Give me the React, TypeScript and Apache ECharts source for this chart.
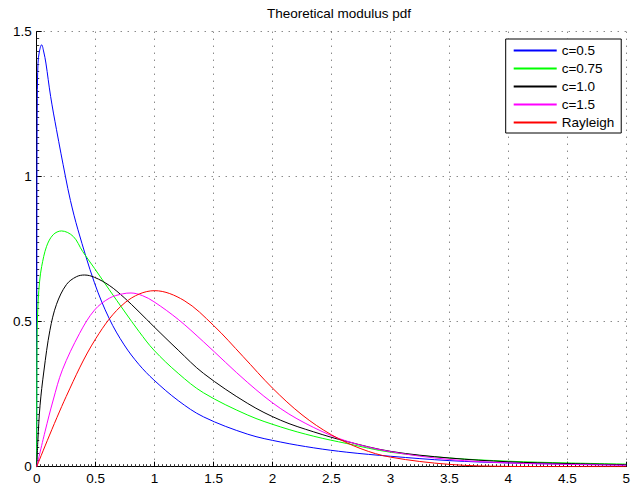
import React, { useEffect, useRef } from "react";
import * as echarts from "echarts";

const TITLE = "Theoretical modulus pdf";
const SERIES_NAMES = ["c=0.5", "c=0.75", "c=1.0", "c=1.5", "Rayleigh"];
const SERIES_COLORS = ["#0000ff", "#00ff00", "#000000", "#ff00ff", "#ff0000"];

const xTicksMin = 0;
const xTicksMax = 5;
const yTicksMin = 0;
const yTicksMax = 1.5;

const c05X = [0, 0.002, 0.005, 0.011, 0.022, 0.042, 0.06, 0.078, 0.118, 0.168, 0.244, 0.286, 0.35, 0.49, 0.616, 0.742, 0.868, 0.994, 1.2, 1.414, 1.79, 2.07, 2.35, 2.63, 3, 3.5, 4, 4.5, 5];
const c05Y = [0, 1.0, 1.27, 1.39, 1.43, 1.455, 1.43, 1.392, 1.277, 1.162, 1.0, 0.918, 0.817, 0.634, 0.51, 0.42, 0.352, 0.299, 0.228, 0.172, 0.112, 0.085, 0.065, 0.05, 0.036, 0.021, 0.013, 0.009, 0.006];

const c075X = [0, 0.003, 0.013, 0.025, 0.042, 0.084, 0.14, 0.21, 0.31, 0.39, 0.49, 0.616, 0.742, 0.868, 0.994, 1.2, 1.414, 1.79, 2.07, 2.35, 2.63, 3, 3.5, 4, 4.5, 5];
const c075Y = [0, 0.45, 0.575, 0.64, 0.69, 0.76, 0.8, 0.813, 0.794, 0.742, 0.684, 0.61, 0.537, 0.466, 0.402, 0.322, 0.255, 0.178, 0.137, 0.105, 0.08, 0.05, 0.03, 0.019, 0.013, 0.009];

const c10X = [0, 0.01, 0.028, 0.061, 0.112, 0.168, 0.252, 0.336, 0.406, 0.49, 0.616, 0.742, 0.868, 0.994, 1.2, 1.414, 1.79, 2.07, 2.35, 2.63, 3, 3.5, 4, 4.5, 5];
const c10Y = [0, 0.09, 0.21, 0.33, 0.47, 0.56, 0.628, 0.655, 0.661, 0.653, 0.625, 0.583, 0.534, 0.483, 0.402, 0.322, 0.218, 0.16, 0.12, 0.087, 0.053, 0.03, 0.017, 0.011, 0.007];

const c15X = [0, 0.07, 0.14, 0.218, 0.364, 0.49, 0.616, 0.728, 0.8, 0.896, 0.994, 1.2, 1.414, 1.79, 2.07, 2.35, 2.63, 3, 3.5, 4, 4.5, 5];
const c15Y = [0, 0.12, 0.23, 0.334, 0.46, 0.54, 0.581, 0.596, 0.599, 0.59, 0.569, 0.508, 0.431, 0.29, 0.2, 0.135, 0.088, 0.052, 0.025, 0.013, 0.008, 0.005];

const rayX = [0, 0.25, 0.5, 0.75, 1, 1.25, 1.5, 1.75, 2, 2.25, 2.5, 2.75, 3, 3.5, 4, 4.5, 5];
const rayY = [0, 0.242, 0.441, 0.566, 0.607, 0.573, 0.487, 0.38, 0.271, 0.179, 0.11, 0.062, 0.033, 0.008, 0.001, 0.0002, 0];

const SERIES_X = [c05X, c075X, c10X, c15X, rayX];
const SERIES_Y = [c05Y, c075Y, c10Y, c15Y, rayY];

const FONT = "'Liberation Sans', Arial, Helvetica, sans-serif";
const FS = 13.5;

export default function App() {
  const ref = useRef<HTMLDivElement>(null);
  useEffect(() => {
    if (!ref.current) return;
    const chart = echarts.init(ref.current, undefined, { renderer: "svg" });
    const grid = "#555555";
    const axisCommon = (min: number, max: number, minorSplit: number) => ({
      type: "value" as const,
      min,
      max,
      interval: 0.5,
      axisLine: { show: true, onZero: false, lineStyle: { color: "#000", width: 1 } },
      axisTick: { show: true, inside: true, length: 5, lineStyle: { color: "#000", width: 1 } },
      minorTick: { show: true, splitNumber: minorSplit, length: 2.5, lineStyle: { color: "#333", width: 1 } },
      splitLine: { show: true, lineStyle: { color: grid, width: 1, type: [1, 6] } },
      axisLabel: {
        color: "#000",
        fontSize: FS,
        fontFamily: FONT,
        margin: 5,
        showMaxLabel: true,
        showMinLabel: true,
        formatter: (v: number) => String(v),
      },
    });
    chart.setOption({
      animation: false,
      backgroundColor: "#ffffff",
      title: {
        text: TITLE,
        left: 334,
        top: 1,
        textAlign: "center",
        textStyle: { fontSize: FS, fontWeight: "normal", color: "#000", fontFamily: FONT },
      },
      legend: {
        orient: "vertical",
        left: 505.7,
        top: 39,
        padding: [4.5, 7, 3.5, 8],
        itemWidth: 43,
        itemHeight: 2,
        itemGap: 4,
        icon: "rect",
        selectedMode: false,
        borderColor: "#000",
        borderWidth: 1,
        backgroundColor: "#fff",
        textStyle: { fontSize: FS, color: "#000", fontFamily: FONT },
        data: SERIES_NAMES,
      },
      grid: { left: 36.7, right: 1.3, top: 31.7, bottom: 22.3, containLabel: false },
      xAxis: axisCommon(xTicksMin, xTicksMax, 15),
      yAxis: axisCommon(yTicksMin, yTicksMax, 22),
      series: SERIES_NAMES.map((name, i) => ({
        name,
        type: "line",
        showSymbol: false,
        symbol: "none",
        smooth: 0.35,
        color: SERIES_COLORS[i],
        itemStyle: { color: SERIES_COLORS[i] },
        lineStyle: { color: SERIES_COLORS[i], width: 1 },
        data: SERIES_X[i].map((x, j) => [x, SERIES_Y[i][j]]),
      })),
    });
    return () => chart.dispose();
  }, []);
  return (
    <div
      ref={ref}
      style={{ position: "fixed", left: 0, top: 0, width: 633, height: 489, background: "#fff" }}
    />
  );
}
